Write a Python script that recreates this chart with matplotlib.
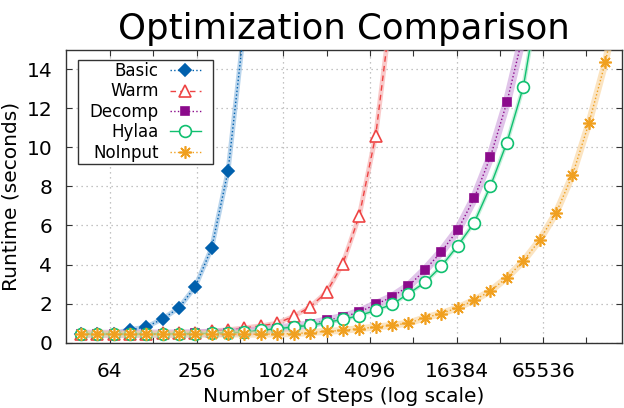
import numpy as np
import matplotlib
matplotlib.use("Agg")
import matplotlib.pyplot as plt
from matplotlib.patches import Rectangle
from matplotlib.ticker import FixedLocator, NullFormatter

# number of steps (x) for each sample
steps = [40, 52, 68, 88, 114, 149, 193, 251, 326, 424, 551, 717, 932, 1211,
         1575, 2047, 2661, 3460, 4498, 5847, 7601, 9882, 12846, 16700, 21710,
         28223, 36690, 47697, 62006, 80608, 104790, 136227, 177095, 230223]

basic = [0.45, 0.45, 0.47, 0.67, 0.80, 1.22, 1.78, 2.87, 4.85, 8.80, 16.3]
warm = [0.45, 0.45, 0.46, 0.46, 0.47, 0.48, 0.50, 0.52, 0.60, 0.66, 0.76,
        0.86, 1.00, 1.35, 1.83, 2.58, 4.05, 6.50, 10.6, 17.4]
decomp = [0.45, 0.45, 0.45, 0.45, 0.46, 0.46, 0.47, 0.48, 0.50, 0.52, 0.56,
          0.62, 0.72, 0.82, 0.94, 1.14, 1.31, 1.57, 1.96, 2.34, 2.90, 3.72,
          4.65, 5.76, 7.38, 9.52, 12.3, 15.8]
hylaa = [0.44, 0.44, 0.44, 0.44, 0.44, 0.45, 0.45, 0.46, 0.48, 0.51, 0.54,
         0.63, 0.72, 0.80, 0.89, 1.03, 1.20, 1.38, 1.66, 1.96, 2.51, 3.08,
         3.91, 4.96, 6.13, 8.02, 10.24, 13.08, 18.0]
noinput = [0.44, 0.44, 0.44, 0.44, 0.44, 0.44, 0.44, 0.44, 0.44, 0.44, 0.44,
           0.43, 0.45, 0.46, 0.52, 0.58, 0.63, 0.72, 0.80, 0.89, 1.00, 1.28,
           1.49, 1.79, 2.17, 2.65, 3.33, 4.17, 5.25, 6.64, 8.58, 11.23, 14.34,
           18.3]

xticks = [64, 256, 1024, 4096, 16384, 65536]
xminor = [128, 512, 2048, 8192, 32768, 131072]
yticks = [0, 2, 4, 6, 8, 10, 12, 14]

series = [
    # label, data, color, band color, band width, linestyle, marker, size, filled
    ("Basic", basic, "#0060ad", "#8ab8e0", 3.5, ":", "D", 6, True),
    ("Warm", warm, "#ee4444", "#f6a8a8", 3.5, (0, (4, 3)), "^", 8, False),
    ("Decomp", decomp, "#8b0a8b", "#cc9ddb", 6, ":", "s", 6, True),
    ("Hylaa", hylaa, "#10c070", "#9fe6c2", 3, "-", "o", 8.5, False),
    ("NoInput", noinput, "#f0a020", "#f9d299", 5, ":", (8, 2, 0), 9, False),
]

plt.rcParams["font.family"] = "DejaVu Sans"
fig = plt.figure(figsize=(6.24, 4.08), dpi=100)
ax = fig.add_axes([66 / 624, 1 - 342.7 / 408, 556 / 624, 293.2 / 408])

for i, (lab, vals, col, bcol, bw, ls, mk, ms, filled) in enumerate(series):
    xs = steps[:len(vals)]
    ax.plot(xs, vals, color=bcol, lw=bw, alpha=0.6, solid_capstyle="butt",
            zorder=2 + i * 3)
    ax.plot(xs, vals, color=col, lw=1.0, ls=ls, marker=mk, markersize=ms,
            markerfacecolor=col if filled else "white",
            markeredgecolor=col, markeredgewidth=1.2, label=lab,
            zorder=3 + i * 3)

ax.set_xscale("log", base=2)
ax.set_xlim(31.7, 2 ** 17.82)
ax.set_ylim(0, 15)
ax.xaxis.set_major_locator(FixedLocator(xticks))
ax.xaxis.set_minor_locator(FixedLocator(xminor))
ax.xaxis.set_minor_formatter(NullFormatter())
ax.set_xticklabels([str(t) for t in xticks])
ax.set_yticks(yticks)

ax.tick_params(axis="both", which="both", direction="in", top=True,
               right=True, length=4.5, width=0.8, labelsize=14.5,
               color="#333333")
ax.tick_params(axis="x", which="both", pad=14)
ax.tick_params(axis="y", pad=10)
ax.grid(True, which="major", ls=(0, (1, 3)), color="#b0b0b0", lw=0.9)
for s in ax.spines.values():
    s.set_color("#333333")
    s.set_linewidth(1.0)

ax.set_xlabel("Number of Steps (log scale)", fontsize=14.5, labelpad=4)
ax.set_ylabel("Runtime (seconds)", fontsize=14.5)
ax.yaxis.set_label_coords(-0.082, 0.5)
ax.set_title("Optimization Comparison", fontsize=25.6, pad=7.5)

leg = ax.legend(loc="upper left", bbox_to_anchor=(22 / 556, 1 - 11 / 293.2),
                markerfirst=False, fontsize=12, frameon=False,
                handlelength=1.9, handletextpad=0.65, labelspacing=0.14,
                borderpad=0.1, borderaxespad=0)
leg.set_zorder(30)

# gnuplot-style key box: wider horizontal padding than vertical
fig.canvas.draw()
bb = leg.get_window_extent()
frame = Rectangle((bb.x0 - 10, bb.y0 - 1), bb.width + 20, bb.height + 2,
                  transform=None, facecolor="white", edgecolor="#333333",
                  lw=1.0, zorder=29)
ax.add_artist(frame)

fig.savefig("out.png", dpi=100)
